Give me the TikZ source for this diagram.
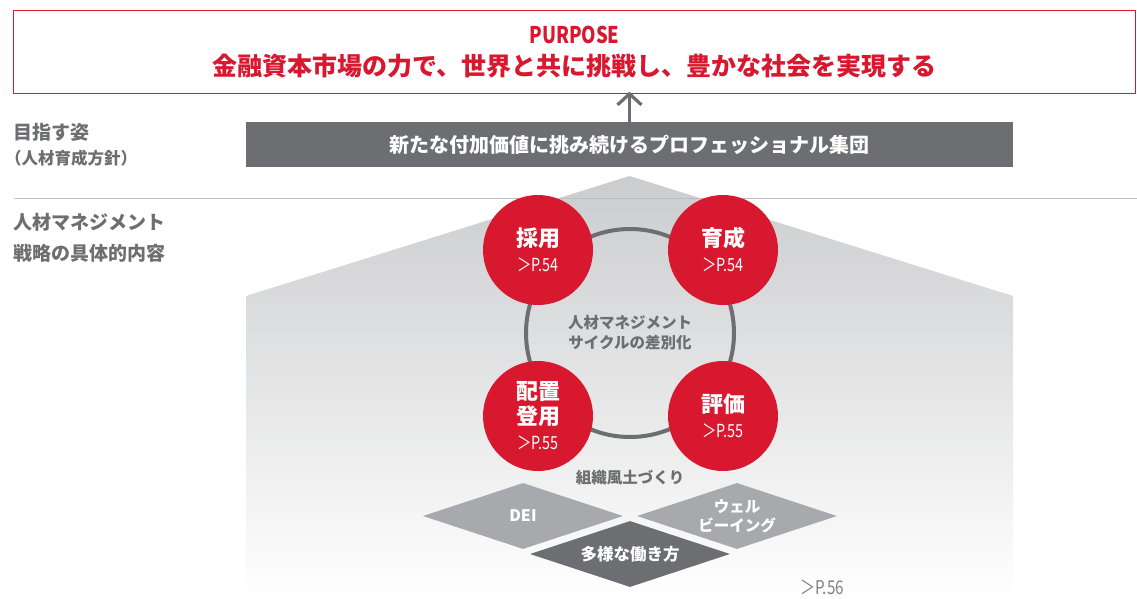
\documentclass[tikz,border=0pt]{standalone}
\usepackage{fontspec}
\setmainfont{Noto Sans CJK JP}
\usetikzlibrary{arrows.meta,shapes.geometric}
\definecolor{nred}{HTML}{D7182F}
\definecolor{dgray}{HTML}{6D6E71}
\definecolor{lgray}{HTML}{A7A9AC}
\definecolor{rulegray}{HTML}{BCBEC0}
\definecolor{housetop}{HTML}{CBCCCE}
\definecolor{refgray}{HTML}{808285}
\newcommand{\fs}[2]{\fontsize{#1}{#2}\selectfont}
\newcommand{\cond}[1]{\scalebox{0.8}[1]{#1}}
\newcommand{\prefont}{\fs{18}{25}\mdseries}
\tikzset{
  redcirc/.style={circle, fill=nred, minimum size=110pt, inner sep=0pt, text=white, align=center, font=\fs{22}{25}\bfseries},
  sidelabel/.style={anchor=west, text=dgray, font=\bfseries, inner sep=0pt},
  dia/.style={diamond, aspect=3, minimum width=200pt, minimum height=66pt, inner sep=0pt, text=white, align=center, font=\fs{15.5}{19}\bfseries}
}
\begin{document}
\begin{tikzpicture}[x=1pt,y=-1pt]
\useasboundingbox (0,0) rectangle (1137,599);
% house
\shade[top color=housetop, bottom color=white] (246,599) -- (246,296) -- (629.5,176) -- (1013,296) -- (1013,599) -- cycle;
% rule
\draw[rulegray, line width=1pt] (14,198) -- (1137,198);
% purpose box
\node[minimum width=1122pt, minimum height=82pt, inner sep=0pt, align=center, text=nred] (purpose) at (574.5,52)
  {{\fs{23}{30}\bfseries\cond{PURPOSE}}\\[10pt]{\fs{25}{30}\bfseries 金融資本市場の力で、世界と共に挑戦し、豊かな社会を実現する}};
\draw[color=nred, line width=1.2pt] (purpose.north west) rectangle (purpose.south east);
% mission bar
\node[fill=dgray, minimum width=767pt, minimum height=45pt, inner sep=0pt, text=white, font=\fs{20}{24}\bfseries] (mission) at (629.5,144.5)
  {新たな付加価値に挑み続けるプロフェッショナル集団};
\draw[dgray, line width=3.2pt, -{Straight Barb[length=11pt,width=24pt,line width=3.2pt]}] (mission.north) -- ([yshift=1.5pt]mission.north |- purpose.south);
% side labels
\node[sidelabel, font=\fs{19}{22}\bfseries] (l1) at (13,132) {目指す姿};
\node[sidelabel, font=\fs{16.5}{18}\bfseries] (l2) at (5,158) {（人材育成方針）};
\node[sidelabel, font=\fs{19}{22}\bfseries] (l3) at (13,222) {人材マネジメント};
\node[sidelabel, font=\fs{19}{22}\bfseries] (l4) at (13,253) {戦略の具体的内容};
% ring
\node[circle, draw=dgray, line width=4pt, minimum size=208pt, inner sep=0pt, text=dgray, align=center, font=\fs{15.5}{20}\bfseries] (ring) at (630,333)
  {人材マネジメント\\サイクルの差別化};
% red circles
\node[redcirc] (saiyo) at (538,250) {採用\\{\prefont\cond{＞P.54}}};
\node[redcirc] (ikusei) at (723,250) {育成\\{\prefont\cond{＞P.54}}};
\node[redcirc] (haichi) at (538,416) {配置\\登用\\{\prefont\cond{＞P.55}}};
\node[redcirc] (hyoka) at (723,416) {評価\\{\prefont\cond{＞P.55}}};
% culture
\node[text=dgray, font=\fs{15.5}{19}\bfseries] (culture) at (630,478) {組織風土づくり};
\node[dia, fill=lgray, font=\fs{16}{19}\bfseries] (dei) at (523,516) {DEI};
\node[dia, fill=lgray] (well) at (737,516) {ウェル\\ビーイング};
\node[dia, fill=dgray, font=\fs{16.5}{19}\bfseries] (tayo) at (630,554) {多様な働き方};
\node[text=refgray, font=\fs{19}{22}] (p56) at (822,587) {\cond{＞P.56}};
\end{tikzpicture}
\end{document}
